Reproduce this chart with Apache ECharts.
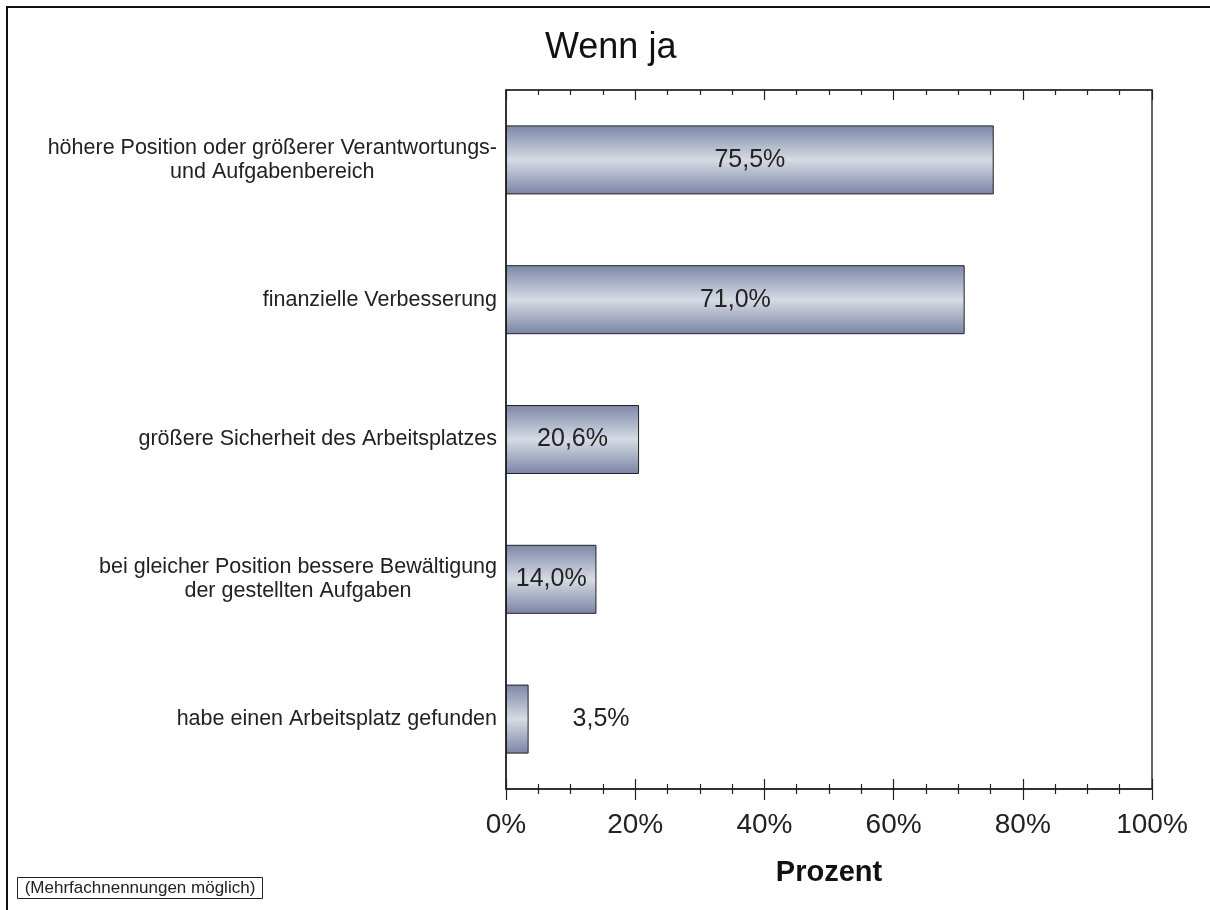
<!DOCTYPE html>
<html>
<head>
<meta charset="utf-8">
<script src="https://cdn.jsdelivr.net/npm/echarts@6/dist/echarts.min.js"></script>
<style>
  html, body { margin: 0; padding: 0; background: #fff; }
  #chart { width: 1210px; height: 910px; }
</style>
</head>
<body>
<div id="chart"></div>
<script>
  // Daten
  var categories = [
    'höhere Position oder größerer Verantwortungs-\nund Aufgabenbereich',
    'finanzielle Verbesserung',
    'größere Sicherheit des Arbeitsplatzes',
    'bei gleicher Position bessere Bewältigung\nder gestellten Aufgaben',
    'habe einen Arbeitsplatz gefunden'
  ];
  var values = [75.5, 71.0, 20.6, 14.0, 3.5];
  var xTicks = [0, 20, 40, 60, 80, 100];

  var font = "'Liberation Sans', Arial, sans-serif";
  var myChart = echarts.init(document.getElementById('chart'));

  var barColor = new echarts.graphic.LinearGradient(0, 0, 0, 1, [
    { offset: 0, color: '#7c87a9' },
    { offset: 0.5, color: '#d6dbe3' },
    { offset: 1, color: '#7a84a6' }
  ]);

  var gridRect = { left: 506, right: 58, top: 90, bottom: 121 };

  var option = {
    animation: false,
    textStyle: { fontFamily: font },
    title: {
      text: 'Wenn ja',
      left: 540,
      top: 25,
      textStyle: { fontFamily: font, fontSize: 36, fontWeight: 'normal', color: '#111' }
    },
    grid: [
      Object.assign({ show: true, borderColor: '#333', borderWidth: 1.5 }, gridRect),
      Object.assign({}, gridRect)
    ],
    xAxis: [
      {
        // unten: Beschriftung + Striche nach außen
        type: 'value', gridIndex: 0, position: 'bottom',
        min: xTicks[0], max: xTicks[xTicks.length - 1], interval: 20,
        axisLine: { show: true, lineStyle: { color: '#222', width: 1.5 } },
        axisTick: { show: true, inside: false, length: 11, lineStyle: { color: '#222', width: 1.2 } },
        minorTick: { show: true, splitNumber: 4, length: 5, lineStyle: { color: '#222', width: 1.2 } },
        splitLine: { show: false },
        axisLabel: { margin: 22, fontSize: 28, color: '#222', fontFamily: font, formatter: '{value}%' },
        name: 'Prozent', nameLocation: 'middle', nameGap: 69,
        nameTextStyle: { fontSize: 29, fontWeight: 'bold', color: '#111', fontFamily: font }
      },
      {
        // oben: Striche nach innen
        type: 'value', gridIndex: 0, position: 'top',
        min: xTicks[0], max: xTicks[xTicks.length - 1], interval: 20,
        axisLine: { show: true, lineStyle: { color: '#333', width: 1.5 } },
        axisTick: { show: true, inside: true, length: 10, lineStyle: { color: '#222', width: 1.2 } },
        minorTick: { show: true, splitNumber: 4, length: 5, lineStyle: { color: '#222', width: 1.2 } },
        splitLine: { show: false },
        axisLabel: { show: false }
      },
      {
        // unten innen (zweites Grid), damit die Striche die Achse kreuzen
        type: 'value', gridIndex: 1, position: 'bottom',
        min: xTicks[0], max: xTicks[xTicks.length - 1], interval: 20,
        axisLine: { show: false },
        axisTick: { show: true, inside: true, length: 10, lineStyle: { color: '#222', width: 1.2 } },
        minorTick: { show: true, splitNumber: 4, length: 5, lineStyle: { color: '#222', width: 1.2 } },
        splitLine: { show: false },
        axisLabel: { show: false }
      }
    ],
    yAxis: [
      {
        type: 'category', gridIndex: 0, inverse: true,
        data: categories,
        axisLine: { show: true, lineStyle: { color: '#222', width: 1.5 } },
        axisTick: { show: false },
        axisLabel: {
          margin: 9,
          color: '#222',
          fontFamily: font,
          fontSize: 21,
          lineHeight: 24,
          formatter: function (v) {
            var lines = v.split('\n');
            var tag = lines.length > 1 ? 'c' : 'r';
            return lines.map(function (l) { return '{' + tag + '|' + l + '}'; }).join('\n');
          },
          rich: {
            c: { align: 'center', fontSize: 21.5, lineHeight: 24, color: '#222', fontFamily: font },
            r: { align: 'right', fontSize: 21.5, lineHeight: 24, color: '#222', fontFamily: font }
          }
        }
      },
      { type: 'category', gridIndex: 1, show: false, data: categories }
    ],
    series: [{
      type: 'bar',
      xAxisIndex: 0,
      yAxisIndex: 0,
      barWidth: 69,
      itemStyle: { color: barColor, borderColor: '#222', borderWidth: 1 },
      label: {
        show: true,
        position: 'inside',
        fontSize: 25,
        color: '#222',
        fontFamily: font,
        formatter: function (p) { return p.value.toFixed(1).replace('.', ',') + '%'; }
      },
      data: values.map(function (v) {
        if (v < 10) {
          return { value: v, label: { position: 'right', distance: 44 } };
        }
        return v;
      })
    }],
    graphic: [
      {
        type: 'rect',
        shape: { x: 7, y: 7, width: 1220, height: 920 },
        style: { fill: 'none', stroke: '#111', lineWidth: 2 },
        silent: true
      },
      {
        type: 'rect',
        shape: { x: 17.5, y: 877.5, width: 245, height: 21 },
        style: { fill: '#fff', stroke: '#222', lineWidth: 1 },
        silent: true
      },
      {
        type: 'text',
        x: 140, y: 888,
        style: {
          text: '(Mehrfachnennungen möglich)',
          fontFamily: font, fontSize: 17, fill: '#222',
          align: 'center', verticalAlign: 'middle'
        },
        silent: true
      }
    ]
  };

  myChart.setOption(option);
</script>
</body>
</html>
